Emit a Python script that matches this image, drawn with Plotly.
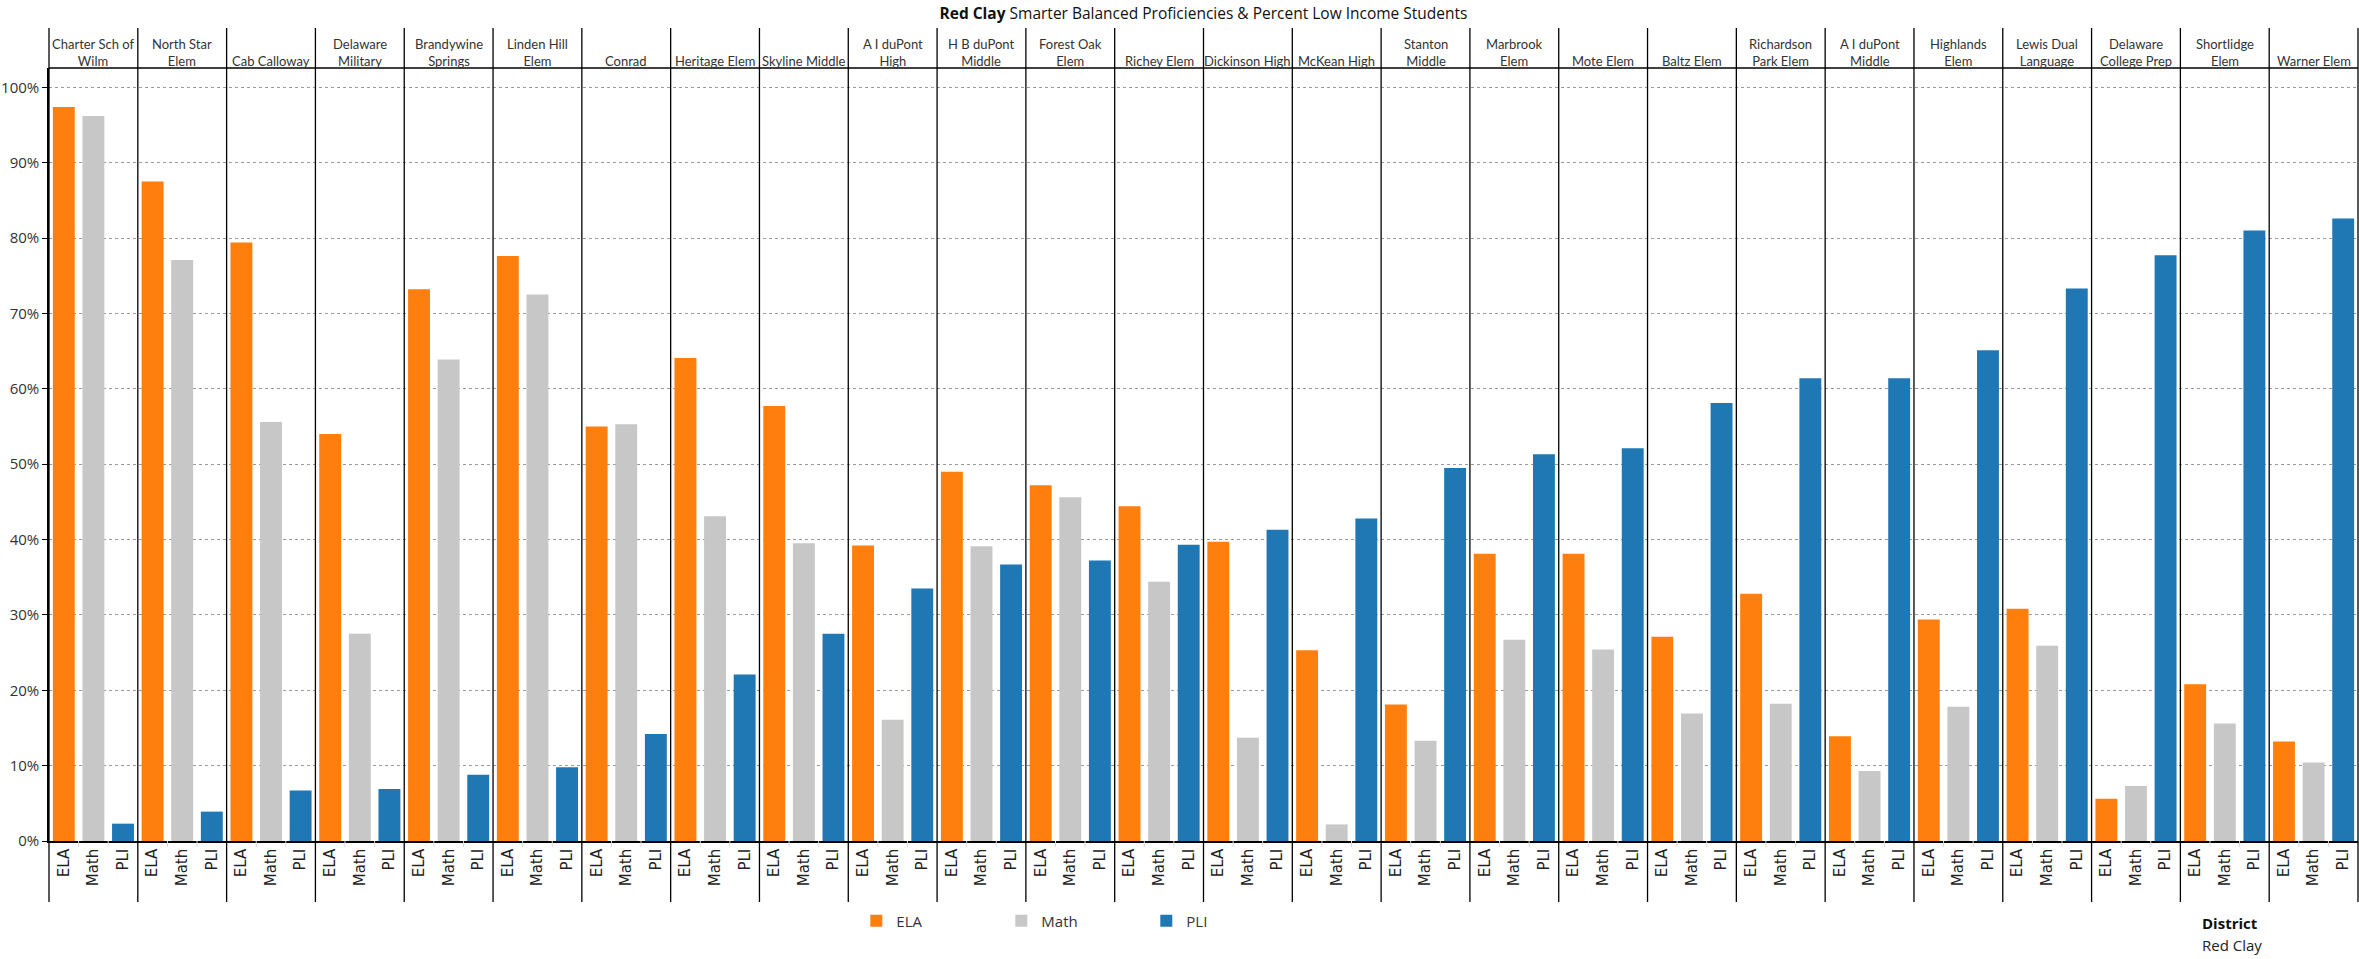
import plotly.graph_objects as go

# ---------------- data ----------------
schools = ["Charter Sch of<br>Wilm", "North Star<br>Elem", "Cab Calloway", "Delaware<br>Military",
           "Brandywine<br>Springs", "Linden Hill<br>Elem", "Conrad", "Heritage Elem", "Skyline Middle",
           "A I duPont<br>High", "H B duPont<br>Middle", "Forest Oak<br>Elem", "Richey Elem",
           "Dickinson High", "McKean High", "Stanton<br>Middle", "Marbrook<br>Elem", "Mote Elem",
           "Baltz Elem", "Richardson<br>Park Elem", "A I duPont<br>Middle", "Highlands<br>Elem",
           "Lewis Dual<br>Language", "Delaware<br>College Prep", "Shortlidge<br>Elem", "Warner Elem"]
measures = ["ELA", "Math", "PLI"]
ela = [97.4, 87.5, 79.4, 54.0, 73.2, 77.6, 55.0, 64.1, 57.7, 39.2, 49.0, 47.2, 44.4,
       39.7, 25.3, 18.1, 38.1, 38.1, 27.1, 32.8, 13.9, 29.4, 30.8, 5.6, 20.8, 13.2]
math = [96.2, 77.1, 55.6, 27.5, 63.9, 72.5, 55.3, 43.1, 39.5, 16.1, 39.1, 45.6, 34.4,
        13.7, 2.2, 13.3, 26.7, 25.4, 16.9, 18.2, 9.3, 17.8, 25.9, 7.3, 15.6, 10.4]
pli = [2.3, 3.9, 6.7, 6.9, 8.8, 9.8, 14.2, 22.1, 27.5, 33.5, 36.7, 37.2, 39.3,
       41.3, 42.8, 49.5, 51.3, 52.1, 58.1, 61.4, 61.4, 65.1, 73.3, 77.7, 81.0, 82.6]
y_ticks = [0, 10, 20, 30, 40, 50, 60, 70, 80, 90, 100]
district = "Red Clay"

colors = {"ELA": "#ff7f0e", "Math": "#c7c7c7", "PLI": "#1f77b4"}
series = {"ELA": ela, "Math": math, "PLI": pli}

W, H = 2359, 959
ML, MR, MT, MB = 47, 1, 68, 118
plot_h = H - MT - MB
n = len(schools)
k = len(measures)

SEG = "Open Sans, Noto Sans, sans-serif"
HDR = "Lato, Open Sans, sans-serif"

fig = go.Figure()
for j, m in enumerate(measures):
    fig.add_trace(go.Bar(
        x=[i * k + j for i in range(n)], y=series[m], name=m,
        marker=dict(color=colors[m], line=dict(width=0)), width=0.74,
        hovertemplate=m + ": %{y:.1f}%<extra></extra>",
    ))

tickvals = [i * k + j for i in range(n) for j in range(k)]
ticktext = [measures[j] for i in range(n) for j in range(k)]

def py(px_from_bottom):
    return px_from_bottom / plot_h

shapes = []
# column dividers spanning header, plot, and label band
for i in range(n + 1):
    shapes.append(dict(type="line", xref="paper", yref="paper",
                       x0=i / n, x1=i / n, y0=py(-61), y1=py(plot_h + 40),
                       line=dict(color="black", width=1.3)))
# header bottom line
shapes.append(dict(type="line", xref="paper", yref="paper", x0=0, x1=1, y0=1, y1=1,
                   line=dict(color="black", width=1.5)))
# faint separators between bars in label band
for i in range(n):
    for j in range(1, k):
        xx = (i * k + j) / (n * k)
        shapes.append(dict(type="line", xref="paper", yref="paper", x0=xx, x1=xx,
                           y0=py(-6), y1=0, line=dict(color="#d9d9d9", width=1)))

annotations = []
for i, s in enumerate(schools):
    annotations.append(dict(x=i * k + 1, xref="x", y=py(plot_h - 3), yref="paper",
                            text=s, showarrow=False, yanchor="bottom", xanchor="center",
                            font=dict(family=HDR, size=13, color="#333333")))
annotations.append(dict(x=(2200 - ML) / (W - ML - MR), xref="paper", y=py(841 - 923), yref="paper",
                        text="<b>District</b>", showarrow=False, xanchor="left", yanchor="middle",
                        font=dict(family=SEG, size=15, color="#111111")))
annotations.append(dict(x=(2200 - ML) / (W - ML - MR), xref="paper", y=py(841 - 945), yref="paper",
                        text=district, showarrow=False, xanchor="left", yanchor="middle",
                        font=dict(family=SEG, size=15, color="#222222")))

fig.update_layout(
    width=W, height=H,
    margin=dict(l=ML, r=MR, t=MT, b=MB, pad=0),
    paper_bgcolor="white", plot_bgcolor="white",
    barmode="overlay",
    title=dict(text="<b>" + district + "</b> Smarter Balanced Proficiencies &amp; Percent Low Income Students",
               x=0.5, xref="paper", xanchor="center", y=1 - 14 / H, yref="container", yanchor="middle",
               font=dict(family=SEG, size=15.5, color="#111111")),
    xaxis=dict(range=[-0.5, n * k - 0.5], tickmode="array", tickvals=tickvals, ticktext=ticktext,
               tickangle=-90, tickfont=dict(family="DejaVu Sans", size=15, color="#222222"),
               showgrid=False, zeroline=False, showline=True, linecolor="black", linewidth=1.5,
               ticks="", fixedrange=True),
    yaxis=dict(range=[0, 102.56], tickmode="array", tickvals=y_ticks,
               ticktext=[f"{v}%" for v in y_ticks],
               tickfont=dict(family=SEG, size=15, color="#333333"),
               showgrid=True, gridcolor="#9a9a9a", griddash="dot", gridwidth=1,
               zeroline=False, showline=True, linecolor="black", linewidth=1.5,
               ticks="outside", ticklen=5, tickcolor="black", fixedrange=True),
    legend=dict(orientation="h", x=(855 - ML) / (W - ML - MR), xanchor="left",
                y=py(841 - 921), yanchor="middle", entrywidth=100, entrywidthmode="pixels",
                font=dict(family=SEG, size=15, color="#333333"), traceorder="normal"),
    shapes=shapes, annotations=annotations, showlegend=True,
)

fig.write_html("out.html", config={"displayModeBar": False},
               post_script="document.body.style.margin='0';document.body.style.overflow='hidden';")
